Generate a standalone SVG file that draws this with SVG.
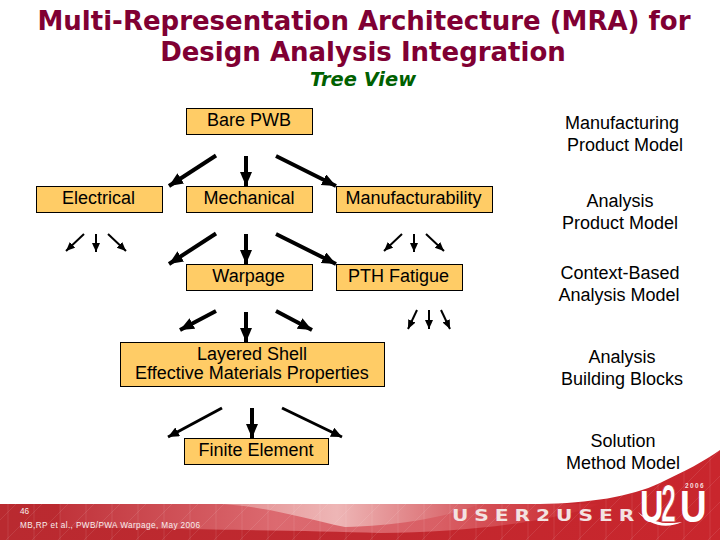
<svg xmlns="http://www.w3.org/2000/svg" width="720" height="540" viewBox="0 0 720 540">
<style>
text{font-family:"Liberation Sans",Arial,sans-serif;fill:#000;font-size:18px;text-anchor:middle}
.n rect{fill:#ffcc66;stroke:#000;stroke-width:1}
.t{font-family:"DejaVu Sans",Verdana,sans-serif;font-weight:bold;font-size:26px;fill:#800033}
.a{stroke:#000;fill:none}
.b{stroke-width:4;marker-end:url(#hb)}
.m{stroke-width:3;marker-end:url(#hm)}
.s{stroke-width:2;marker-end:url(#hs)}
.f{fill:#f8eeee;text-anchor:start;font-size:8.200px}
.u{font-weight:bold;font-size:45px;fill:#fff;text-anchor:start}
</style>
<defs>
<marker id="hb" markerUnits="userSpaceOnUse" markerWidth="16" markerHeight="14" refX="14" refY="6" orient="auto"><path d="M0 0L14 6L0 12Z" fill="#000"/></marker>
<marker id="hm" markerUnits="userSpaceOnUse" markerWidth="14" markerHeight="12" refX="11" refY="5" orient="auto"><path d="M0 0L11 5L0 10Z" fill="#000"/></marker>
<marker id="hs" markerUnits="userSpaceOnUse" markerWidth="12" markerHeight="10" refX="9" refY="4" orient="auto"><path d="M0 0L9 4L0 8Z" fill="#000"/></marker>
<linearGradient id="red" x1="0" y1="0" x2="1" y2="0"><stop offset="0" stop-color="#b92a30"/><stop offset="1" stop-color="#c9262d"/></linearGradient>
<linearGradient id="la" gradientUnits="userSpaceOnUse" x1="60" y1="0" x2="600" y2="0"><stop offset="0" stop-color="#c0333a"/><stop offset=".4" stop-color="#dc6a70"/><stop offset=".7" stop-color="#d95f65"/><stop offset="1" stop-color="#c9262d"/></linearGradient>
<linearGradient id="lb" gradientUnits="userSpaceOnUse" x1="220" y1="0" x2="480" y2="0"><stop offset="0" stop-color="#e28c8e"/><stop offset=".45" stop-color="#eeb6b6"/><stop offset="1" stop-color="#d5585e"/></linearGradient>
<pattern id="tex" patternUnits="userSpaceOnUse" width="26" height="26"><path d="M0 26L26 0M8 0V26" stroke="#fff" stroke-width=".6" fill="none" opacity=".16"/></pattern>
</defs>
<g id="footer">
<path id="band" d="M0 504H540C590 503 630 497 660 483C685 471 705 461 720 450V540H0Z" fill="url(#red)"/>
<path d="M60 504H600C560 520 470 533 380 533C300 530 200 530 60 527Z" fill="url(#la)"/>
<path d="M222 504C270 507 310 520 345 527C400 526 450 516 480 504Z" fill="url(#lb)"/>
<path d="M0 504H540C590 503 630 497 660 483C685 471 705 461 720 450V540H0Z" fill="url(#tex)"/>
<text transform="translate(452 521) scale(1.35 1)" x="0" y="0" textLength="135" style="font-family:'DejaVu Sans',sans-serif;font-size:15px;font-weight:bold;fill:#f3e2e2;text-anchor:start">USER2USER</text>
<path d="M638 512C648 524 664 530 682 522C666 525 650 522 638 512Z" fill="#fff"/>
<text class="u" transform="translate(640 522) scale(.72 1)" x="0" y="0">U</text>
<text class="u" transform="translate(661 522) scale(.6 1.2)" x="0" y="0" style="fill:#fff;stroke:#c9262d;stroke-width:.8">2</text>
<text class="u" transform="translate(680 522) scale(.82 1)" x="0" y="0">U</text>
<text x="695" y="488" style="font-size:6.500px;font-weight:bold;fill:#f5dede;letter-spacing:1.4px">2006</text>
<text class="f" x="20" y="514">46</text>
<text class="f" x="20" y="528" textLength="180">MB,RP et al., PWB/PWA Warpage,  May 2006</text>
</g>
<g id="title">
<text class="t" x="364" y="30">Multi-Representation Architecture (MRA) for</text>
<text class="t" x="363" y="61">Design Analysis Integration</text>
<text x="363" y="86" style="font-family:'DejaVu Sans',Verdana,sans-serif;font-weight:bold;font-style:italic;font-size:19.400px;fill:#006000">Tree View</text>
</g>
<g id="connectors">
<path class="a b" d="M216 155.500L169 186"/>
<path class="a b" d="M246 156L246 186"/>
<path class="a b" d="M276 156L336 186"/>
<path class="a s" d="M84 234L66 251"/>
<path class="a s" d="M96 234L96 252"/>
<path class="a s" d="M108 234L126 251"/>
<path class="a b" d="M216 233.500L169 264"/>
<path class="a b" d="M246 234L246 264"/>
<path class="a b" d="M276 234L336 264"/>
<path class="a s" d="M402 234L384 251"/>
<path class="a s" d="M414 234L414 252"/>
<path class="a s" d="M426 234L444 251"/>
<path class="a s" d="M417 310L408 329"/>
<path class="a s" d="M429 310L429 329"/>
<path class="a s" d="M441 310L450 329"/>
<path class="a b" d="M216 311L180 330"/>
<path class="a b" d="M246 312L246 342"/>
<path class="a b" d="M276 311L312 330"/>
<path class="a m" d="M222 408L168 437"/>
<path class="a b" d="M252 408L252 438"/>
<path class="a m" d="M282 408L342 437"/>
</g>
<g id="bare-pwb" class="n"><rect x="186.500" y="108.500" width="126" height="26"/><text x="249" y="126">Bare PWB</text></g>
<g id="electrical" class="n"><rect x="36.500" y="186.500" width="126" height="26"/><text x="98.500" y="204">Electrical</text></g>
<g id="mechanical" class="n"><rect x="186.500" y="186.500" width="126" height="26"/><text x="249" y="204">Mechanical</text></g>
<g id="manufacturability" class="n"><rect x="336.500" y="186.500" width="156" height="26"/><text x="413.500" y="204">Manufacturability</text></g>
<g id="warpage" class="n"><rect x="186.500" y="264.500" width="126" height="26"/><text x="248.500" y="282">Warpage</text></g>
<g id="pth-fatigue" class="n"><rect x="336.500" y="264.500" width="126" height="26"/><text x="398.500" y="282">PTH Fatigue</text></g>
<g id="layered-shell" class="n"><rect x="120.500" y="342.500" width="264" height="44"/><text x="252" y="360">Layered Shell</text><text x="252" y="379">Effective Materials Properties</text></g>
<g id="finite-element" class="n"><rect x="184.500" y="438.500" width="144" height="26"/><text x="256" y="456">Finite Element</text></g>
<g id="labels">
<text x="622" y="129">Manufacturing</text><text x="625" y="151">Product Model</text>
<text x="620" y="207">Analysis</text><text x="620" y="229">Product Model</text>
<text x="620" y="279">Context-Based</text><text x="619" y="301">Analysis Model</text>
<text x="622" y="363">Analysis</text><text x="622" y="385">Building Blocks</text>
<text x="623" y="447">Solution</text><text x="623" y="469">Method Model</text>
</g>
</svg>
